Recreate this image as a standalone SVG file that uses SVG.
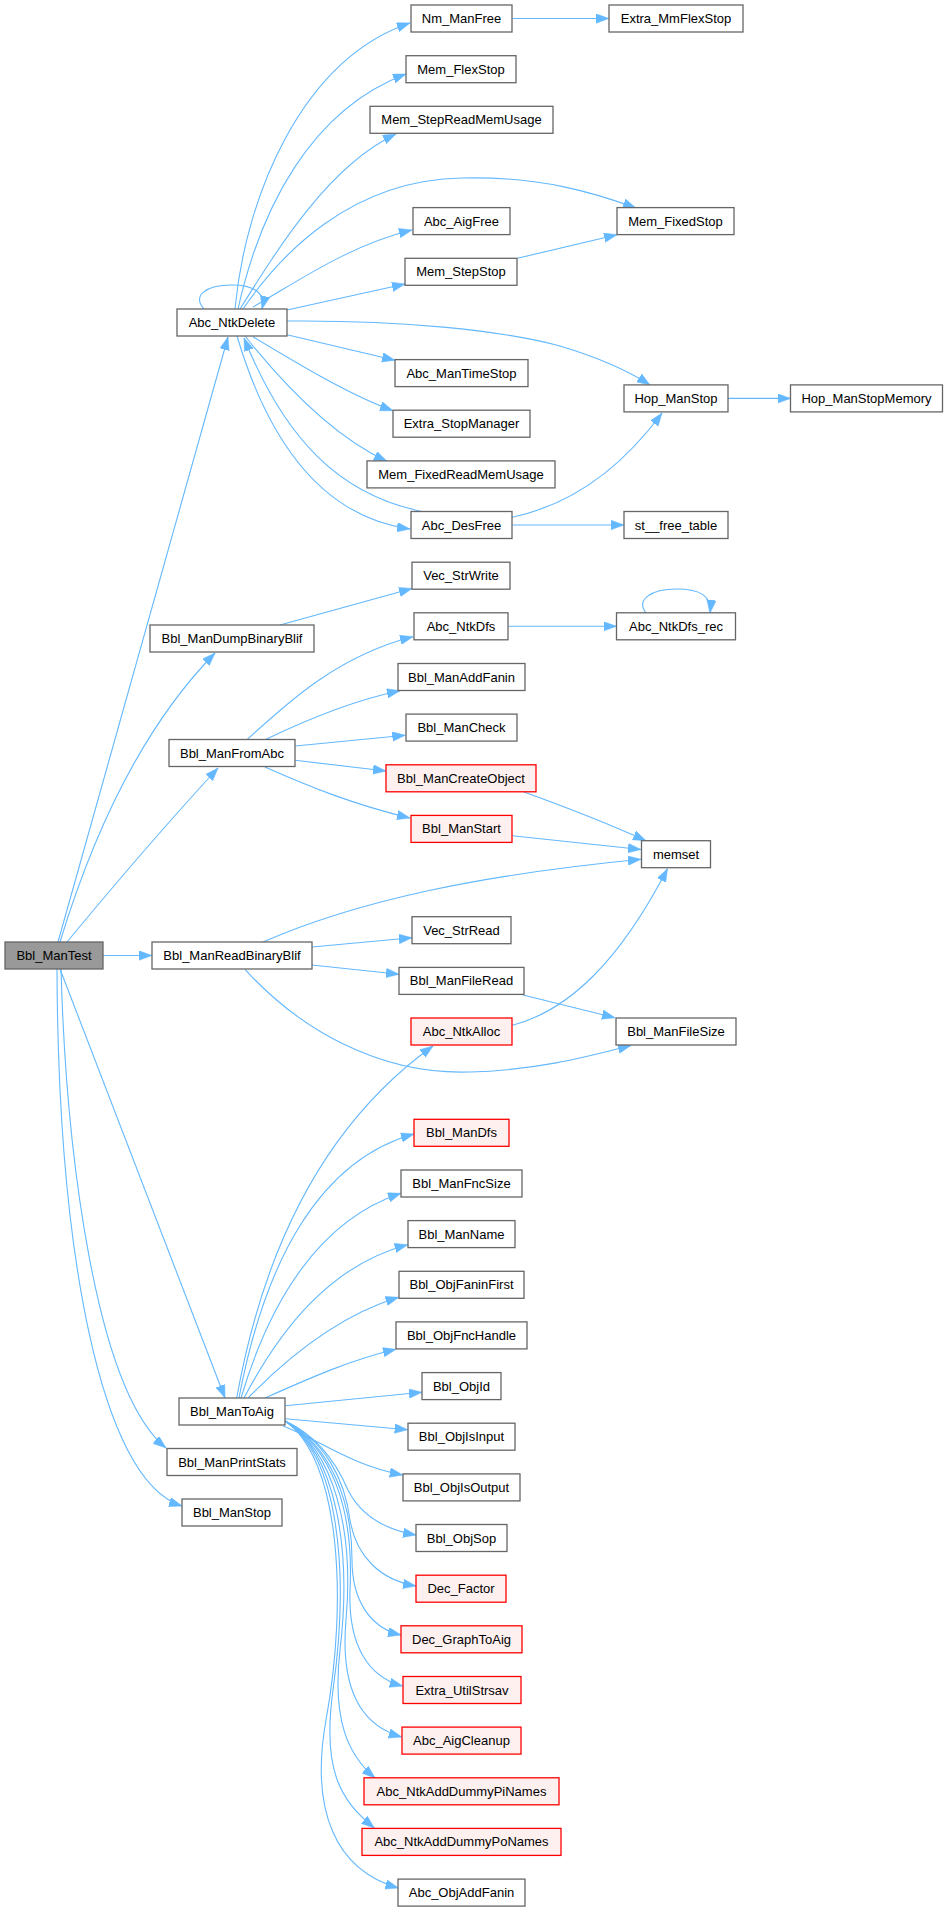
<svg xmlns="http://www.w3.org/2000/svg" width="947" height="1912" viewBox="0 0 947 1912">
<style>
.n rect{fill:#ffffff;stroke:#666666;stroke-width:1.3}
.r rect{fill:#fff0f0;stroke:#ff0000;stroke-width:1.3}
.g rect{fill:#999999;stroke:#666666;stroke-width:1.3}
text{font-family:"Liberation Sans",Arial,Helvetica,sans-serif;font-size:13px;fill:#000000;text-anchor:middle}
#edges path{fill:none;stroke:#63b8ff;stroke-width:1.1;marker-end:url(#arr)}
</style>
<defs>
<marker id="arr" markerUnits="userSpaceOnUse" markerWidth="14" markerHeight="10" refX="13" refY="4.75" orient="auto">
<path d="M0,0 L13,4.75 L0,9.5 z" fill="#63b8ff" stroke="#63b8ff" stroke-width="0.5"/>
</marker>
</defs>
<rect x="0" y="0" width="947" height="1912" fill="#ffffff"/>
<g id="edges">
<path d="M58,942 L228,337"/>
<path d="M60,942 C85,860 130,740 215,653"/>
<path d="M67,942 C110,890 170,820 218,768"/>
<path d="M103,955.5 L152,955.5"/>
<path d="M60,969 L225,1398"/>
<path d="M61,969 C66,1150 95,1390 166,1448"/>
<path d="M57,969 C58,1250 100,1480 182,1506"/>
<path d="M204,309 C192,296 205,285 232,285 C254,285 266,293 262,309"/>
<path d="M235,309 C245,200 300,60 410,23"/>
<path d="M238,309 C260,210 310,110 406,74"/>
<path d="M240,309 C280,245 330,165 396,134"/>
<path d="M243,309 C280,255 350,180 462,178 C540,176 595,193 636,208"/>
<path d="M253,307 C300,280 350,245 412,230"/>
<path d="M287,310 L405,284"/>
<path d="M287,321 C400,320 500,330 560,346 C600,358 630,372 650,385"/>
<path d="M287,334.7 L395,360.3"/>
<path d="M253,336.7 C300,365 350,395 393,410.7"/>
<path d="M245,336 C280,380 330,435 387,461.3"/>
<path d="M237,336 C262,420 310,515 410,529"/>
<path d="M423,511.7 C340,495 285,440 244,338"/>
<path d="M512,517.3 C570,505 620,470 662,413"/>
<path d="M512.4,525 L624,525"/>
<path d="M512.4,18.5 L609,18.5"/>
<path d="M517.4,258.3 L617,234.7"/>
<path d="M728,398.4 L790.5,398.4"/>
<path d="M280,625 L412,588.5"/>
<path d="M247,739.7 C290,700 340,655 413,636.7"/>
<path d="M265,739.7 C310,718 355,700 400,690.7"/>
<path d="M295.3,746 L405.3,735.3"/>
<path d="M295.3,760.3 L386,771"/>
<path d="M265,767 C310,787 355,805 410,818"/>
<path d="M508.4,626.3 L616.5,626.3"/>
<path d="M646,613 C636,600 650,589 677,589 C700,589 712,596 710,613"/>
<path d="M524,792 C560,805 600,820 646,840.7"/>
<path d="M512.4,835.7 L641,849.5"/>
<path d="M263,942 C360,900 480,875 641,859.3"/>
<path d="M312,947 L412,937.7"/>
<path d="M312,965 L399,974.3"/>
<path d="M245,969.3 C300,1030 380,1075 470,1072 C540,1070 590,1056 631,1045.5"/>
<path d="M523,995 L615,1017.7"/>
<path d="M512.4,1025.3 C570,1010 620,960 667.5,868.7"/>
<path d="M236.7,1398 C265,1240 330,1120 433,1046"/>
<path d="M239,1398 C265,1260 320,1160 414,1134"/>
<path d="M241,1398 C270,1300 320,1220 401,1193.3"/>
<path d="M244,1398 C280,1330 330,1265 407.7,1244.7"/>
<path d="M248,1398 C290,1355 340,1315 398.7,1297.3"/>
<path d="M265,1398 C310,1378 350,1360 396,1349.3"/>
<path d="M285.3,1405.7 L422,1392.3"/>
<path d="M285.3,1418.7 L407.7,1429.7"/>
<path d="M283,1426 C320,1440 350,1465 402.7,1475"/>
<path d="M285,1421 C318,1436 336,1462 348,1490 C360,1514 382,1529 416,1535"/>
<path d="M285,1421 C325,1440 345,1480 350,1520 C356,1556 380,1580 416,1586"/>
<path d="M285,1421 C330,1445 352,1500 352,1560 C352,1600 370,1628 401,1635"/>
<path d="M285,1421 C332,1448 354,1510 350,1590 C348,1645 368,1677 402.6,1686"/>
<path d="M285,1421 C334,1450 354,1530 346,1620 C340,1690 362,1726 401.8,1737"/>
<path d="M285,1421 C336,1452 352,1550 340,1650 C332,1720 348,1755 375,1778"/>
<path d="M285,1421 C338,1455 350,1570 333,1690 C322,1770 340,1800 374.3,1828"/>
<path d="M285,1421 C340,1458 348,1600 326,1720 C310,1810 335,1870 398.4,1888"/>
</g>
<g id="Bbl_ManTest" class="g"><rect x="5" y="942" width="98" height="27"/><text x="54" y="960">Bbl_ManTest</text></g>
<g id="Abc_NtkDelete" class="n"><rect x="177" y="309" width="110" height="27"/><text x="232" y="327">Abc_NtkDelete</text></g>
<g id="Bbl_ManDumpBinaryBlif" class="n"><rect x="150" y="625" width="164" height="27"/><text x="232" y="643">Bbl_ManDumpBinaryBlif</text></g>
<g id="Bbl_ManFromAbc" class="n"><rect x="169" y="739.5" width="126" height="27"/><text x="232" y="757.5">Bbl_ManFromAbc</text></g>
<g id="Bbl_ManReadBinaryBlif" class="n"><rect x="152" y="942" width="160" height="27"/><text x="232" y="960">Bbl_ManReadBinaryBlif</text></g>
<g id="Bbl_ManToAig" class="n"><rect x="179" y="1398" width="106" height="27"/><text x="232" y="1416">Bbl_ManToAig</text></g>
<g id="Bbl_ManPrintStats" class="n"><rect x="167" y="1448.5" width="130" height="27"/><text x="232" y="1466.5">Bbl_ManPrintStats</text></g>
<g id="Bbl_ManStop" class="n"><rect x="182" y="1499" width="100" height="27"/><text x="232" y="1517">Bbl_ManStop</text></g>
<g id="Nm_ManFree" class="n"><rect x="411" y="5" width="101" height="27"/><text x="461.5" y="23">Nm_ManFree</text></g>
<g id="Mem_FlexStop" class="n"><rect x="406" y="55.7" width="110" height="27"/><text x="461" y="73.7">Mem_FlexStop</text></g>
<g id="Mem_StepReadMemUsage" class="n"><rect x="370" y="106.3" width="183" height="27"/><text x="461.5" y="124.3">Mem_StepReadMemUsage</text></g>
<g id="Abc_AigFree" class="n"><rect x="413" y="207.6" width="97" height="27"/><text x="461.5" y="225.6">Abc_AigFree</text></g>
<g id="Mem_StepStop" class="n"><rect x="405" y="258.3" width="112" height="27"/><text x="461" y="276.3">Mem_StepStop</text></g>
<g id="Abc_ManTimeStop" class="n"><rect x="395" y="359.6" width="133" height="27"/><text x="461.5" y="377.6">Abc_ManTimeStop</text></g>
<g id="Extra_StopManager" class="n"><rect x="393" y="410.2" width="137" height="27"/><text x="461.5" y="428.2">Extra_StopManager</text></g>
<g id="Mem_FixedReadMemUsage" class="n"><rect x="367" y="460.9" width="188" height="27"/><text x="461" y="478.9">Mem_FixedReadMemUsage</text></g>
<g id="Abc_DesFree" class="n"><rect x="411" y="511.5" width="101" height="27"/><text x="461.5" y="529.5">Abc_DesFree</text></g>
<g id="Vec_StrWrite" class="n"><rect x="412" y="562.2" width="98" height="27"/><text x="461" y="580.2">Vec_StrWrite</text></g>
<g id="Abc_NtkDfs" class="n"><rect x="414" y="612.8" width="94" height="27"/><text x="461" y="630.8">Abc_NtkDfs</text></g>
<g id="Bbl_ManAddFanin" class="n"><rect x="398" y="663.5" width="127" height="27"/><text x="461.5" y="681.5">Bbl_ManAddFanin</text></g>
<g id="Bbl_ManCheck" class="n"><rect x="406" y="714.1" width="111" height="27"/><text x="461.5" y="732.1">Bbl_ManCheck</text></g>
<g id="Bbl_ManCreateObject" class="r"><rect x="386" y="764.8" width="150" height="27"/><text x="461" y="782.8">Bbl_ManCreateObject</text></g>
<g id="Bbl_ManStart" class="r"><rect x="411" y="815.4" width="101" height="27"/><text x="461.5" y="833.4">Bbl_ManStart</text></g>
<g id="Vec_StrRead" class="n"><rect x="412" y="916.7" width="99" height="27"/><text x="461.5" y="934.7">Vec_StrRead</text></g>
<g id="Bbl_ManFileRead" class="n"><rect x="399" y="967.4" width="125" height="27"/><text x="461.5" y="985.4">Bbl_ManFileRead</text></g>
<g id="Abc_NtkAlloc" class="r"><rect x="411" y="1018" width="101" height="27"/><text x="461.5" y="1036">Abc_NtkAlloc</text></g>
<g id="Bbl_ManDfs" class="r"><rect x="414" y="1119.3" width="95" height="27"/><text x="461.5" y="1137.3">Bbl_ManDfs</text></g>
<g id="Bbl_ManFncSize" class="n"><rect x="401" y="1170" width="121" height="27"/><text x="461.5" y="1188">Bbl_ManFncSize</text></g>
<g id="Bbl_ManName" class="n"><rect x="408" y="1220.6" width="107" height="27"/><text x="461.5" y="1238.6">Bbl_ManName</text></g>
<g id="Bbl_ObjFaninFirst" class="n"><rect x="399" y="1271.3" width="125" height="27"/><text x="461.5" y="1289.3">Bbl_ObjFaninFirst</text></g>
<g id="Bbl_ObjFncHandle" class="n"><rect x="396" y="1321.9" width="131" height="27"/><text x="461.5" y="1339.9">Bbl_ObjFncHandle</text></g>
<g id="Bbl_ObjId" class="n"><rect x="422" y="1372.6" width="79" height="27"/><text x="461.5" y="1390.6">Bbl_ObjId</text></g>
<g id="Bbl_ObjIsInput" class="n"><rect x="408" y="1423.2" width="107" height="27"/><text x="461.5" y="1441.2">Bbl_ObjIsInput</text></g>
<g id="Bbl_ObjIsOutput" class="n"><rect x="403" y="1473.9" width="117" height="27"/><text x="461.5" y="1491.9">Bbl_ObjIsOutput</text></g>
<g id="Bbl_ObjSop" class="n"><rect x="416" y="1524.5" width="91" height="27"/><text x="461.5" y="1542.5">Bbl_ObjSop</text></g>
<g id="Dec_Factor" class="r"><rect x="416" y="1575.2" width="90" height="27"/><text x="461" y="1593.2">Dec_Factor</text></g>
<g id="Dec_GraphToAig" class="r"><rect x="401" y="1625.8" width="121" height="27"/><text x="461.5" y="1643.8">Dec_GraphToAig</text></g>
<g id="Extra_UtilStrsav" class="r"><rect x="403" y="1676.5" width="118" height="27"/><text x="462" y="1694.5">Extra_UtilStrsav</text></g>
<g id="Abc_AigCleanup" class="r"><rect x="402" y="1727.1" width="119" height="27"/><text x="461.5" y="1745.1">Abc_AigCleanup</text></g>
<g id="Abc_NtkAddDummyPiNames" class="r"><rect x="364" y="1777.8" width="195" height="27"/><text x="461.5" y="1795.8">Abc_NtkAddDummyPiNames</text></g>
<g id="Abc_NtkAddDummyPoNames" class="r"><rect x="362" y="1828.4" width="199" height="27"/><text x="461.5" y="1846.4">Abc_NtkAddDummyPoNames</text></g>
<g id="Abc_ObjAddFanin" class="n"><rect x="398" y="1879.1" width="127" height="27"/><text x="461.5" y="1897.1">Abc_ObjAddFanin</text></g>
<g id="Extra_MmFlexStop" class="n"><rect x="609" y="5" width="134" height="27"/><text x="676" y="23">Extra_MmFlexStop</text></g>
<g id="Mem_FixedStop" class="n"><rect x="617" y="207.6" width="117" height="27"/><text x="675.5" y="225.6">Mem_FixedStop</text></g>
<g id="Hop_ManStop" class="n"><rect x="624" y="384.9" width="104" height="27"/><text x="676" y="402.9">Hop_ManStop</text></g>
<g id="st__free_table" class="n"><rect x="624" y="511.5" width="104" height="27"/><text x="676" y="529.5">st__free_table</text></g>
<g id="Abc_NtkDfs_rec" class="n"><rect x="616.5" y="612.8" width="119" height="27"/><text x="676" y="630.8">Abc_NtkDfs_rec</text></g>
<g id="memset" class="n"><rect x="641.5" y="840.7" width="69" height="27"/><text x="676" y="858.7">memset</text></g>
<g id="Bbl_ManFileSize" class="n"><rect x="616" y="1018" width="120" height="27"/><text x="676" y="1036">Bbl_ManFileSize</text></g>
<g id="Hop_ManStopMemory" class="n"><rect x="790.5" y="384.9" width="152" height="27"/><text x="866.5" y="402.9">Hop_ManStopMemory</text></g>
</svg>
